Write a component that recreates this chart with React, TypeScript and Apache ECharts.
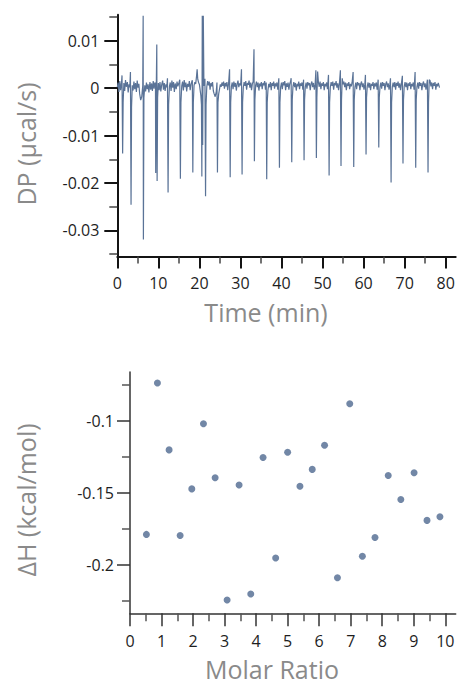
import React, { useEffect, useRef } from "react";
import * as echarts from "echarts";

// ---- Thermogram (top panel): [time (min), DP (µcal/s)] ----
const thermogram: [number, number][] = [
  [0, 0.0002], [0.2, 0.0012], [0.4, -0.0008], [0.6, 0.0015], [0.8, -0.0004], [1.0, 0.0009],
  [1.15, 0.0027], [1.3, -0.0138], [1.42, -0.003], [1.6, 0.0011], [1.8, -0.0006], [2.0, 0.0017],
  [2.2, 0.0003], [2.45, 0.0013], [2.65, -0.0009], [2.85, 0.0008], [3.05, 0.0002], [3.2, 0.0034],
  [3.35, -0.0246], [3.47, -0.004], [3.65, 0.0006], [3.85, -0.0005], [4.05, 0.0014], [4.25, -0.0002],
  [4.45, 0.0011], [4.65, -0.0008], [4.85, 0.0016], [5.05, 0.0001], [5.25, 0.0009], [5.45, -0.0012],
  [5.7, -0.0025], [5.95, -0.0018], [6.2, 0.0005], [6.3, 0.0153], [6.36, -0.0319], [6.48, -0.002],
  [6.7, 0.0006], [6.9, -0.0007], [7.1, 0.0012], [7.3, -0.0002], [7.5, 0.0008], [7.7, -0.0009],
  [7.95, 0.0013], [8.15, -0.0003], [8.35, 0.001], [8.55, -0.0006], [8.75, 0.0015], [8.95, -0.0001],
  [9.15, 0.0012], [9.3, 0.0009], [9.36, -0.0179], [9.48, -0.001], [9.62, 0.0092], [9.7, -0.0196],
  [9.82, -0.002], [10.0, 0.0011], [10.2, -0.0004], [10.4, 0.0013], [10.6, -0.0007], [10.85, 0.0009],
  [11.05, 0.0016], [11.25, -0.0003], [11.45, 0.0011], [11.65, -0.0006], [11.85, 0.0008], [12.05, 0.0002],
  [12.22, 0.0021], [12.37, -0.022], [12.5, -0.0035], [12.7, 0.0004], [12.9, 0.0012], [13.1, -0.0006],
  [13.3, 0.0016], [13.5, 0.0001], [13.7, 0.0013], [13.9, -0.0008], [14.1, 0.001], [14.35, -0.0002],
  [14.55, 0.0014], [14.75, 0.0004], [15.0, 0.0011], [15.22, 0.0018], [15.37, -0.0191], [15.5, -0.003],
  [15.7, 0.0005], [15.9, 0.0014], [16.1, -0.0005], [16.3, 0.0017], [16.5, 0.0002], [16.7, 0.0012],
  [16.9, -0.0007], [17.1, 0.0009], [17.35, 0.0003], [17.55, 0.0015], [17.75, -0.0004], [17.95, 0.0008],
  [18.15, 0.0014], [18.28, 0.0017], [18.4, -0.0178], [18.52, -0.003], [18.7, 0.0006], [18.9, 0.0013],
  [19.1, 0.0009], [19.3, 0.0025], [19.45, 0.004], [19.6, 0.0019], [19.8, 0.0012], [20.0, 0.0008],
  [20.2, -0.0005], [20.35, -0.0015], [20.5, -0.0035], [20.6, -0.0186], [20.7, 0.0153], [20.8, -0.012],
  [20.95, 0.0153], [21.1, 0.0005], [21.35, 0.002], [21.5, -0.0228], [21.62, -0.0035], [21.8, 0.0003],
  [22.0, 0.0015], [22.2, 0.0006], [22.4, 0.0014], [22.6, -0.0003], [22.8, 0.0011], [23.0, 0.0004],
  [23.2, 0.0013], [23.4, -0.0006], [23.6, -0.0012], [23.85, -0.0018], [24.1, -0.0008], [24.28, 0.0012],
  [24.4, -0.0178], [24.52, -0.003], [24.7, -0.0012], [24.9, -0.0002], [25.1, 0.0008], [25.3, 0.0003],
  [25.5, 0.0012], [25.7, 0.0005], [25.9, 0.0014], [26.1, -0.0001], [26.3, 0.0011], [26.5, 0.0004],
  [26.7, 0.0013], [26.9, -0.0004], [27.1, 0.0009], [27.35, 0.004], [27.5, -0.0188], [27.62, -0.003],
  [27.8, 0.0004], [28.0, 0.0012], [28.2, -0.0002], [28.4, 0.0014], [28.6, 0.0003], [28.8, 0.0011],
  [29.0, -0.0005], [29.2, 0.0009], [29.4, 0.0016], [29.6, 0.0002], [29.8, 0.001], [30.05, 0.0006],
  [30.25, 0.004], [30.4, -0.0182], [30.52, -0.003], [30.7, 0.0002], [30.9, 0.0013], [31.1, 0.0005],
  [31.3, 0.0015], [31.5, -0.0003], [31.7, 0.0011], [31.9, 0.0007], [32.1, 0.0016], [32.3, 0.0001],
  [32.5, 0.0012], [32.7, -0.0004], [32.9, 0.0009], [33.1, 0.0014], [33.3, 0.0082], [33.4, -0.0154],
  [33.52, -0.0025], [33.7, 0.0006], [33.9, 0.0014], [34.1, 0.0002], [34.3, 0.0012], [34.5, -0.0005],
  [34.7, 0.001], [34.9, 0.0004], [35.1, 0.0013], [35.3, -0.0002], [35.5, 0.0011], [35.7, 0.0006],
  [35.9, 0.0015], [36.1, -0.0003], [36.28, 0.0012], [36.4, -0.0192], [36.52, -0.003], [36.7, -0.0004],
  [36.9, 0.0009], [37.1, 0.0002], [37.3, 0.0013], [37.5, -0.0004], [37.7, 0.0011], [37.9, 0.0005],
  [38.1, 0.0014], [38.3, -0.0001], [38.5, 0.001], [38.7, 0.0004], [38.9, 0.0012], [39.1, -0.0003],
  [39.35, 0.0021], [39.5, -0.0168], [39.62, -0.003], [39.8, 0.0003], [40.0, 0.0012], [40.2, -0.0002],
  [40.4, 0.0013], [40.6, 0.0006], [40.8, 0.0015], [41.0, -0.0004], [41.2, 0.001], [41.4, 0.0003],
  [41.6, 0.0012], [41.8, -0.0003], [42.0, 0.0009], [42.2, 0.0014], [42.35, 0.0021], [42.5, -0.0156],
  [42.62, -0.0025], [42.8, 0.0004], [43.0, 0.0013], [43.2, 0.0002], [43.4, 0.0011], [43.6, -0.0005],
  [43.8, 0.0009], [44.0, 0.0004], [44.2, 0.0014], [44.4, -0.0002], [44.6, 0.001], [44.8, 0.0005],
  [45.0, 0.0012], [45.2, -0.0003], [45.38, 0.0018], [45.5, -0.0152], [45.62, -0.0025], [45.8, 0.0003],
  [46.0, 0.0012], [46.2, -0.0001], [46.4, 0.0013], [46.6, 0.0006], [46.8, 0.0011], [47.0, -0.0004],
  [47.2, 0.0009], [47.4, 0.0014], [47.6, 0.0002], [47.8, 0.0011], [48.0, -0.0003], [48.2, 0.0008],
  [48.38, 0.0038], [48.5, -0.0147], [48.62, -0.002], [48.8, 0.0035], [49.0, 0.0012], [49.2, 0.0003],
  [49.4, 0.0014], [49.6, -0.0002], [49.8, 0.001], [50.0, 0.0005], [50.2, 0.0013], [50.4, -0.0004],
  [50.6, 0.0009], [50.8, 0.0004], [51.0, 0.0012], [51.2, -0.0002], [51.45, 0.0028], [51.6, -0.0184],
  [51.72, -0.003], [51.9, 0.0002], [52.1, 0.0013], [52.3, 0.0005], [52.5, 0.0014], [52.7, -0.0003],
  [52.9, 0.0011], [53.1, 0.0006], [53.3, 0.0015], [53.5, 0.0001], [53.7, 0.001], [53.9, -0.0004],
  [54.1, 0.0009], [54.35, 0.0038], [54.5, -0.0164], [54.62, -0.0025], [54.8, 0.0021], [55.0, 0.0008],
  [55.2, 0.0014], [55.4, 0.0002], [55.6, 0.0012], [55.8, -0.0004], [56.0, 0.001], [56.2, 0.0005],
  [56.4, 0.0013], [56.6, -0.0002], [56.8, 0.0009], [57.0, 0.0004], [57.2, 0.0012], [57.45, 0.0034],
  [57.6, -0.0166], [57.72, -0.0025], [57.9, 0.0003], [58.1, 0.0012], [58.3, -0.0002], [58.5, 0.0013],
  [58.7, 0.0006], [58.9, 0.0011], [59.1, -0.0004], [59.3, 0.0009], [59.5, 0.0014], [59.7, 0.0002],
  [59.9, 0.001], [60.1, -0.0003], [60.3, 0.0008], [60.45, 0.0028], [60.6, -0.014], [60.72, -0.002],
  [60.9, 0.0004], [61.1, 0.0012], [61.3, 0.0001], [61.5, 0.0011], [61.7, -0.0004], [61.9, 0.0009],
  [62.1, 0.0005], [62.3, 0.0013], [62.5, -0.0002], [62.7, 0.001], [62.9, 0.0004], [63.1, 0.0012],
  [63.3, -0.0003], [63.55, 0.0018], [63.7, -0.0125], [63.82, -0.002], [64.0, 0.0003], [64.2, 0.0012],
  [64.4, -0.0001], [64.6, 0.0013], [64.8, 0.0005], [65.0, 0.0011], [65.2, -0.0004], [65.4, 0.0009],
  [65.6, 0.0014], [65.8, 0.0002], [66.0, 0.001], [66.2, -0.0003], [66.4, 0.0008], [66.55, 0.0021],
  [66.7, -0.0199], [66.82, -0.003], [67.0, 0.0003], [67.2, 0.0012], [67.4, 0.0002], [67.6, 0.0013],
  [67.8, -0.0003], [68.0, 0.0011], [68.2, 0.0005], [68.4, 0.0014], [68.6, 0.0001], [68.8, 0.001],
  [69.0, -0.0004], [69.2, 0.0009], [69.45, 0.0026], [69.6, -0.0159], [69.72, -0.0025], [69.9, 0.0004],
  [70.1, 0.0013], [70.3, 0.0002], [70.5, 0.0012], [70.7, -0.0004], [70.9, 0.001], [71.1, 0.0005],
  [71.3, 0.0013], [71.5, -0.0002], [71.7, 0.0009], [71.9, 0.0004], [72.1, 0.0012], [72.3, -0.0003],
  [72.55, 0.0034], [72.7, -0.0168], [72.82, -0.0025], [73.0, 0.0003], [73.2, 0.0012], [73.4, -0.0001],
  [73.6, 0.0013], [73.8, 0.0005], [74.0, 0.0011], [74.2, -0.0004], [74.4, 0.0009], [74.6, 0.0014],
  [74.8, 0.0002], [75.0, 0.001], [75.2, -0.0003], [75.55, 0.0018], [75.7, -0.0178], [75.82, -0.003],
  [76.0, 0.0018], [76.2, 0.0016], [76.4, 0.0004], [76.6, 0.0012], [76.8, -0.0002], [77.0, 0.0011],
  [77.2, 0.0005], [77.4, 0.0013], [77.6, -0.0003], [77.8, 0.0009], [78.0, 0.0004], [78.2, 0.0011],
  [78.5, 0.0001],
];
const timeTicks = [0, 10, 20, 30, 40, 50, 60, 70, 80];
const timeMinorTicks = [5, 15, 25, 35, 45, 55, 65, 75];
const dpTicks = [0.01, 0, -0.01, -0.02, -0.03];
const dpMinorTicks = [0.015, 0.005, -0.005, -0.015, -0.025, -0.035];

// ---- Integrated heats (bottom panel) ----
const molarRatio = [
  0.52, 0.87, 1.24, 1.59, 1.96, 2.33, 2.70, 3.08, 3.46, 3.83, 4.22, 4.62, 5.00,
  5.39, 5.78, 6.17, 6.58, 6.97, 7.37, 7.77, 8.19, 8.59, 9.01, 9.42, 9.83,
];
const deltaH = [
  -0.1788, -0.074, -0.1203, -0.1795, -0.1473, -0.1022, -0.1396, -0.2242, -0.1446, -0.22,
  -0.1256, -0.1951, -0.1219, -0.1455, -0.1338, -0.1171, -0.2088, -0.0884, -0.1939, -0.181,
  -0.138, -0.1547, -0.1361, -0.1691, -0.1666,
];
const ratioTicks = [0, 1, 2, 3, 4, 5, 6, 7, 8, 9, 10];
const ratioMinorTicks = [0.5, 1.5, 2.5, 3.5, 4.5, 5.5, 6.5, 7.5, 8.5, 9.5];
const dhTicks = [-0.1, -0.15, -0.2];
const dhMinorTicks = [-0.075, -0.125, -0.175, -0.225];

const FONT = "'Open Sans', 'Noto Sans', sans-serif";
const TITLE_COLOR = "#8a8a8a";
const fmt = (v: number) => String(+Number(v).toFixed(4));

function majorAxis(o: any) {
  return {
    type: "value",
    gridIndex: o.grid,
    position: o.position,
    min: o.min,
    max: o.max,
    splitLine: { show: false },
    axisLine: { show: true, onZero: false, lineStyle: { color: o.color, width: o.width } },
    axisTick: {
      show: true,
      inside: false,
      length: o.tickLen,
      customValues: o.ticks,
      lineStyle: { color: o.color, width: o.width },
    },
    axisLabel: {
      show: true,
      customValues: o.ticks,
      margin: o.margin,
      fontSize: 16,
      fontFamily: FONT,
      color: "#1e1e1e",
      formatter: fmt,
    },
  };
}

function minorAxis(o: any) {
  return {
    type: "value",
    gridIndex: o.grid,
    position: o.position,
    min: o.min,
    max: o.max,
    splitLine: { show: false },
    axisLine: { show: false, onZero: false },
    axisTick: {
      show: true,
      inside: false,
      length: o.tickLen,
      customValues: o.ticks,
      lineStyle: { color: o.color, width: o.width },
    },
    axisLabel: { show: false },
  };
}

function title(text: string, x: number, y: number, vertical: boolean) {
  return {
    type: "text",
    x,
    y,
    rotation: vertical ? Math.PI / 2 : 0,
    style: {
      text,
      fontSize: 25,
      fontFamily: FONT,
      fill: TITLE_COLOR,
      align: "center",
      verticalAlign: "middle",
    },
  };
}

export default function App() {
  const ref = useRef<HTMLDivElement>(null);

  useEffect(() => {
    if (!ref.current) return;
    const chart = echarts.init(ref.current, null, { renderer: "svg" });

    const topX = { grid: 0, position: "bottom", min: 0, max: 82.44 };
    const topY = { grid: 0, position: "left", min: -0.0355, max: 0.0155 };
    const botX = { grid: 1, position: "bottom", min: 0, max: 10.33 };
    const botY = { grid: 1, position: "left", min: -0.2334, max: -0.0664 };

    chart.setOption({
      animation: false,
      backgroundColor: "#ffffff",
      grid: [
        { left: 117.3, top: 14.7, width: 338.4, height: 241.8 },
        { left: 130, top: 372, width: 325.7, height: 241.3 },
      ],
      xAxis: [
        majorAxis({ ...topX, ticks: timeTicks, tickLen: 12, margin: 18, color: "#141414", width: 2 }),
        minorAxis({ ...topX, ticks: timeMinorTicks, tickLen: 7, color: "#444", width: 1.5 }),
        majorAxis({ ...botX, ticks: ratioTicks, tickLen: 13, margin: 20, color: "#333", width: 1.5 }),
        minorAxis({ ...botX, ticks: ratioMinorTicks, tickLen: 8, color: "#555", width: 1.5 }),
      ],
      yAxis: [
        majorAxis({ ...topY, ticks: dpTicks, tickLen: 13, margin: 18, color: "#141414", width: 2 }),
        minorAxis({ ...topY, ticks: dpMinorTicks, tickLen: 8, color: "#444", width: 1.5 }),
        majorAxis({ ...botY, ticks: dhTicks, tickLen: 13, margin: 16, color: "#333", width: 1.5 }),
        minorAxis({ ...botY, ticks: dhMinorTicks, tickLen: 8, color: "#555", width: 1.5 }),
      ],
      series: [
        {
          type: "line",
          xAxisIndex: 0,
          yAxisIndex: 0,
          data: thermogram,
          showSymbol: false,
          symbol: "none",
          clip: true,
          lineStyle: { color: "#5a7397", width: 1.2 },
        },
        {
          type: "scatter",
          xAxisIndex: 2,
          yAxisIndex: 2,
          data: molarRatio.map((x, i) => [x, deltaH[i]]),
          symbol: "circle",
          symbolSize: 7,
          itemStyle: { color: "#4f6990" },
        },
      ],
      graphic: [
        title("Time (min)", 266, 312, false),
        title("DP (µcal/s)", 26, 144, true),
        title("Molar Ratio", 272, 669, false),
        title("ΔH (kcal/mol)", 26, 500, true),
      ],
    });

    return () => chart.dispose();
  }, []);

  return (
    <div
      ref={ref}
      style={{ position: "fixed", left: 0, top: 0, width: 459, height: 686, background: "#fff" }}
    />
  );
}
